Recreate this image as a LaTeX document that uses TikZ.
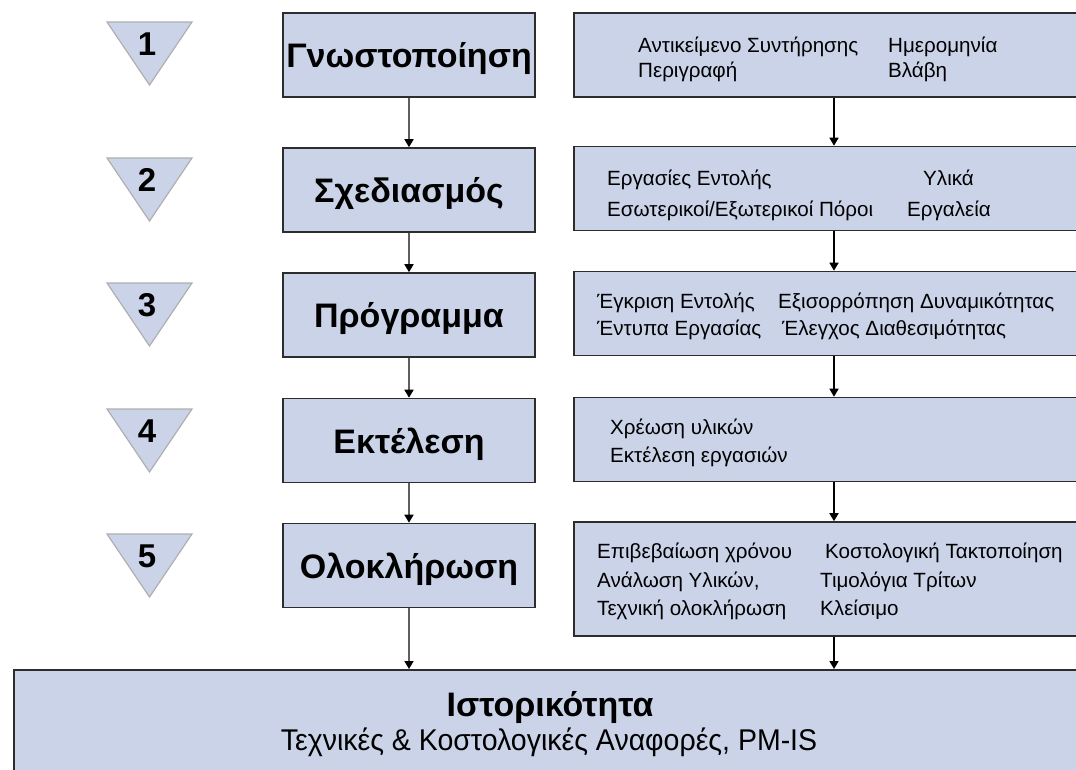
\documentclass[tikz,border=0pt]{standalone}
\usepackage{fontspec}
\setmainfont{Liberation Sans}
\usetikzlibrary{arrows.meta}
\definecolor{boxfill}{RGB}{202,211,232}
\definecolor{boxedge}{RGB}{45,45,45}
\definecolor{triedge}{RGB}{175,175,175}
\definecolor{lconncol}{RGB}{95,95,95}
\begin{document}
\begin{tikzpicture}[x=1pt,y=-1pt,
  lbox/.style={draw=boxedge, line width=1.6pt, fill=boxfill, minimum width=252pt, minimum height=84pt,
    inner sep=0pt, text height=25pt, text depth=0pt, font=\fontsize{34}{40}\selectfont\bfseries},
  rbox/.style={draw=boxedge, line width=1.6pt, fill=boxfill, minimum width=520pt, minimum height=84pt, inner sep=0pt},
  rtxt/.style={anchor=base west, inner sep=0pt, font=\fontsize{20.6}{24}\selectfont},
  tri/.style={draw=triedge, line width=1.2pt, fill=boxfill, line join=miter},
  num/.style={inner sep=0pt, text height=24pt, text depth=0pt, font=\fontsize{33}{40}\selectfont\bfseries},
  lconn/.style={draw=lconncol, line width=1.6pt, -{Triangle[length=8pt,width=9pt,color=black]}},
  rconn/.style={draw=black, line width=1.6pt, -{Triangle[length=8pt,width=9pt]}}
]
\useasboundingbox (0,0) rectangle (1076,769);

% bottom box
\node[draw=boxedge, line width=1.6pt, fill=boxfill, minimum width=1090pt, minimum height=130pt, inner sep=0pt, anchor=north west] (hist) at (13,669) {};
\node[anchor=base, inner sep=0pt, font=\fontsize{34}{40}\selectfont\bfseries] (histt) at (550,716) {Ιστορικότητα};
\node[anchor=base, inner sep=0pt, font=\fontsize{30}{34}\selectfont] (hists) at (549,750) {\scalebox{0.95}[1]{Τεχνικές \& Κοστολογικές Αναφορές, PM-IS}};

% triangles and numbers
\foreach \t/\n [count=\i] in {22/1,158/2,283/3,409/4,534/5}{
  \draw[tri] (107,\t) -- (192,\t) -- (149.5,\t+63) -- cycle;
  \node[num] (n\i) at (147,\t+21) {\n};
}

% left boxes
\node[lbox] (l1) at (409,55) {Γνωστοποίηση};
\node[lbox] (l2) at (409,190) {Σχεδιασμός};
\node[lbox] (l3) at (409,315) {Πρόγραμμα};
\node[lbox] (l4) at (409,440.5) {Εκτέλεση};
\node[lbox] (l5) at (409,565.5) {Ολοκλήρωση};

% right boxes
\node[rbox] (r1) at (834,55) {};
\node[rbox] (r2) at (834,188.5) {};
\node[rbox] (r3) at (834,313.5) {};
\node[rbox] (r4) at (834,439.5) {};
\node[rbox, minimum height=114pt] (r5) at (834,579) {};

% right texts
\node[rtxt] (t11) at (638,52) {Αντικείμενο Συντήρησης};
\node[rtxt] (t12) at (888,52) {Ημερομηνία};
\node[rtxt] (t13) at (638,77) {Περιγραφή};
\node[rtxt] (t14) at (888,77) {Βλάβη};

\node[rtxt] (t21) at (607,185) {Εργασίες Εντολής};
\node[rtxt] (t22) at (923,185) {Υλικά};
\node[rtxt] (t23) at (607,216) {Εσωτερικοί/Εξωτερικοί Πόροι};
\node[rtxt] (t24) at (907,216) {Εργαλεία};

\node[rtxt] (t31) at (597,308) {Έγκριση Εντολής};
\node[rtxt] (t32) at (778,308) {Εξισορρόπηση Δυναμικότητας};
\node[rtxt] (t33) at (597,335) {Έντυπα Εργασίας};
\node[rtxt] (t34) at (782,335) {Έλεγχος Διαθεσιμότητας};

\node[rtxt] (t41) at (610,434) {Χρέωση υλικών};
\node[rtxt] (t42) at (610,462) {Εκτέλεση εργασιών};

\node[rtxt] (t51) at (597,558) {Επιβεβαίωση χρόνου};
\node[rtxt] (t52) at (825,558) {Κοστολογική Τακτοποίηση};
\node[rtxt] (t53) at (597,587) {Ανάλωση Υλικών,};
\node[rtxt] (t54) at (820,587) {Τιμολόγια Τρίτων};
\node[rtxt] (t55) at (597,615) {Τεχνική ολοκλήρωση};
\node[rtxt] (t56) at (820,615) {Κλείσιμο};

% connectors
\draw[lconn] (l1.south) -- (l2.north);
\draw[lconn] (l2.south) -- (l3.north);
\draw[lconn] (l3.south) -- (l4.north);
\draw[lconn] (l4.south) -- (l5.north);
\draw[lconn] (l5.south) -- (l5.south |- hist.north);
\draw[rconn] (r1.south) -- (r2.north);
\draw[rconn] (r2.south) -- (r3.north);
\draw[rconn] (r3.south) -- (r4.north);
\draw[rconn] (r4.south) -- (r5.north);
\draw[rconn] (r5.south) -- (r5.south |- hist.north);
\end{tikzpicture}
\end{document}
